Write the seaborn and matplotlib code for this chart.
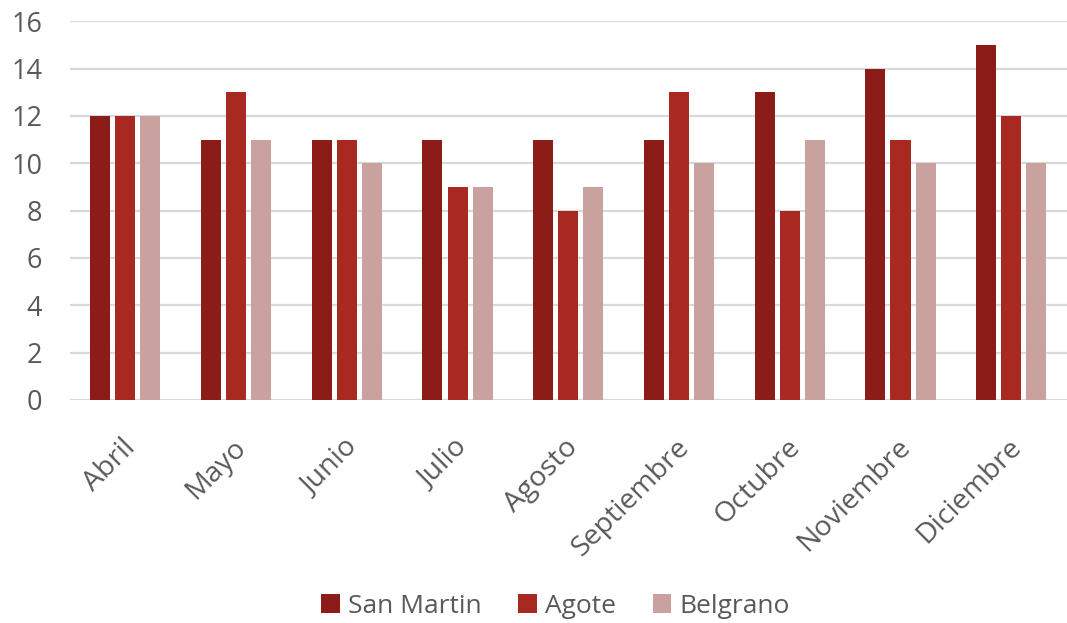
import pandas as pd
import matplotlib.pyplot as plt
import matplotlib.transforms as mtransforms
import seaborn as sns

meses = ["Abril", "Mayo", "Junio", "Julio", "Agosto", "Septiembre", "Octubre", "Noviembre", "Diciembre"]
san_martin = [12, 11, 11, 11, 11, 11, 13, 14, 15]
agote = [12, 13, 11, 9, 8, 13, 8, 11, 12]
belgrano = [12, 11, 10, 9, 9, 10, 11, 10, 10]
series = ["San Martin", "Agote", "Belgrano"]
colores = ["#8B1C18", "#A82921", "#C9A19E"]

df = pd.DataFrame({"mes": meses, "San Martin": san_martin, "Agote": agote, "Belgrano": belgrano})
df = df.melt(id_vars="mes", var_name="serie", value_name="valor")

sns.set_style("white")
plt.rcParams['font.family'] = ['Open Sans', 'DejaVu Sans']

fig = plt.figure(figsize=(10.67, 6.23), dpi=100)
ax = fig.add_axes([0.0656, 0.358, 0.934, 0.608])

sns.barplot(data=df, x="mes", y="valor", hue="serie", hue_order=series,
            palette=colores, width=0.68, gap=0.2, ax=ax, saturation=1, linewidth=0)

ax.set_ylim(0, 16)
ax.set_yticks(range(0, 17, 2))
ax.set_xlim(-0.5, len(meses) - 0.5)
ax.grid(True, axis='y', color="#D9D9D9", linewidth=1.6)
ax.set_axisbelow(True)
for s in ax.spines.values():
    s.set_visible(False)
ax.set_xlabel("")
ax.set_ylabel("")
ax.tick_params(axis='y', length=0, labelsize=19.5, colors="#595959", pad=20)
ax.tick_params(axis='x', length=0, labelsize=20.5, colors="#595959", pad=24)
# etiquetas del eje x giradas, un poco a la izquierda
desplaza = mtransforms.ScaledTranslation(-4 / 100, 0, fig.dpi_scale_trans)
for lbl in ax.get_xticklabels():
    lbl.set_rotation(45)
    lbl.set_ha('right')
    lbl.set_rotation_mode('anchor')
    lbl.set_transform(lbl.get_transform() + desplaza)

ax.legend(loc='center', bbox_to_anchor=(0.487, -0.545), ncol=3, frameon=False,
          fontsize=19, handlelength=0.7, handleheight=0.7, handletextpad=0.3,
          columnspacing=1.4, labelcolor="#595959")

fig.savefig("out.png", dpi=100)
